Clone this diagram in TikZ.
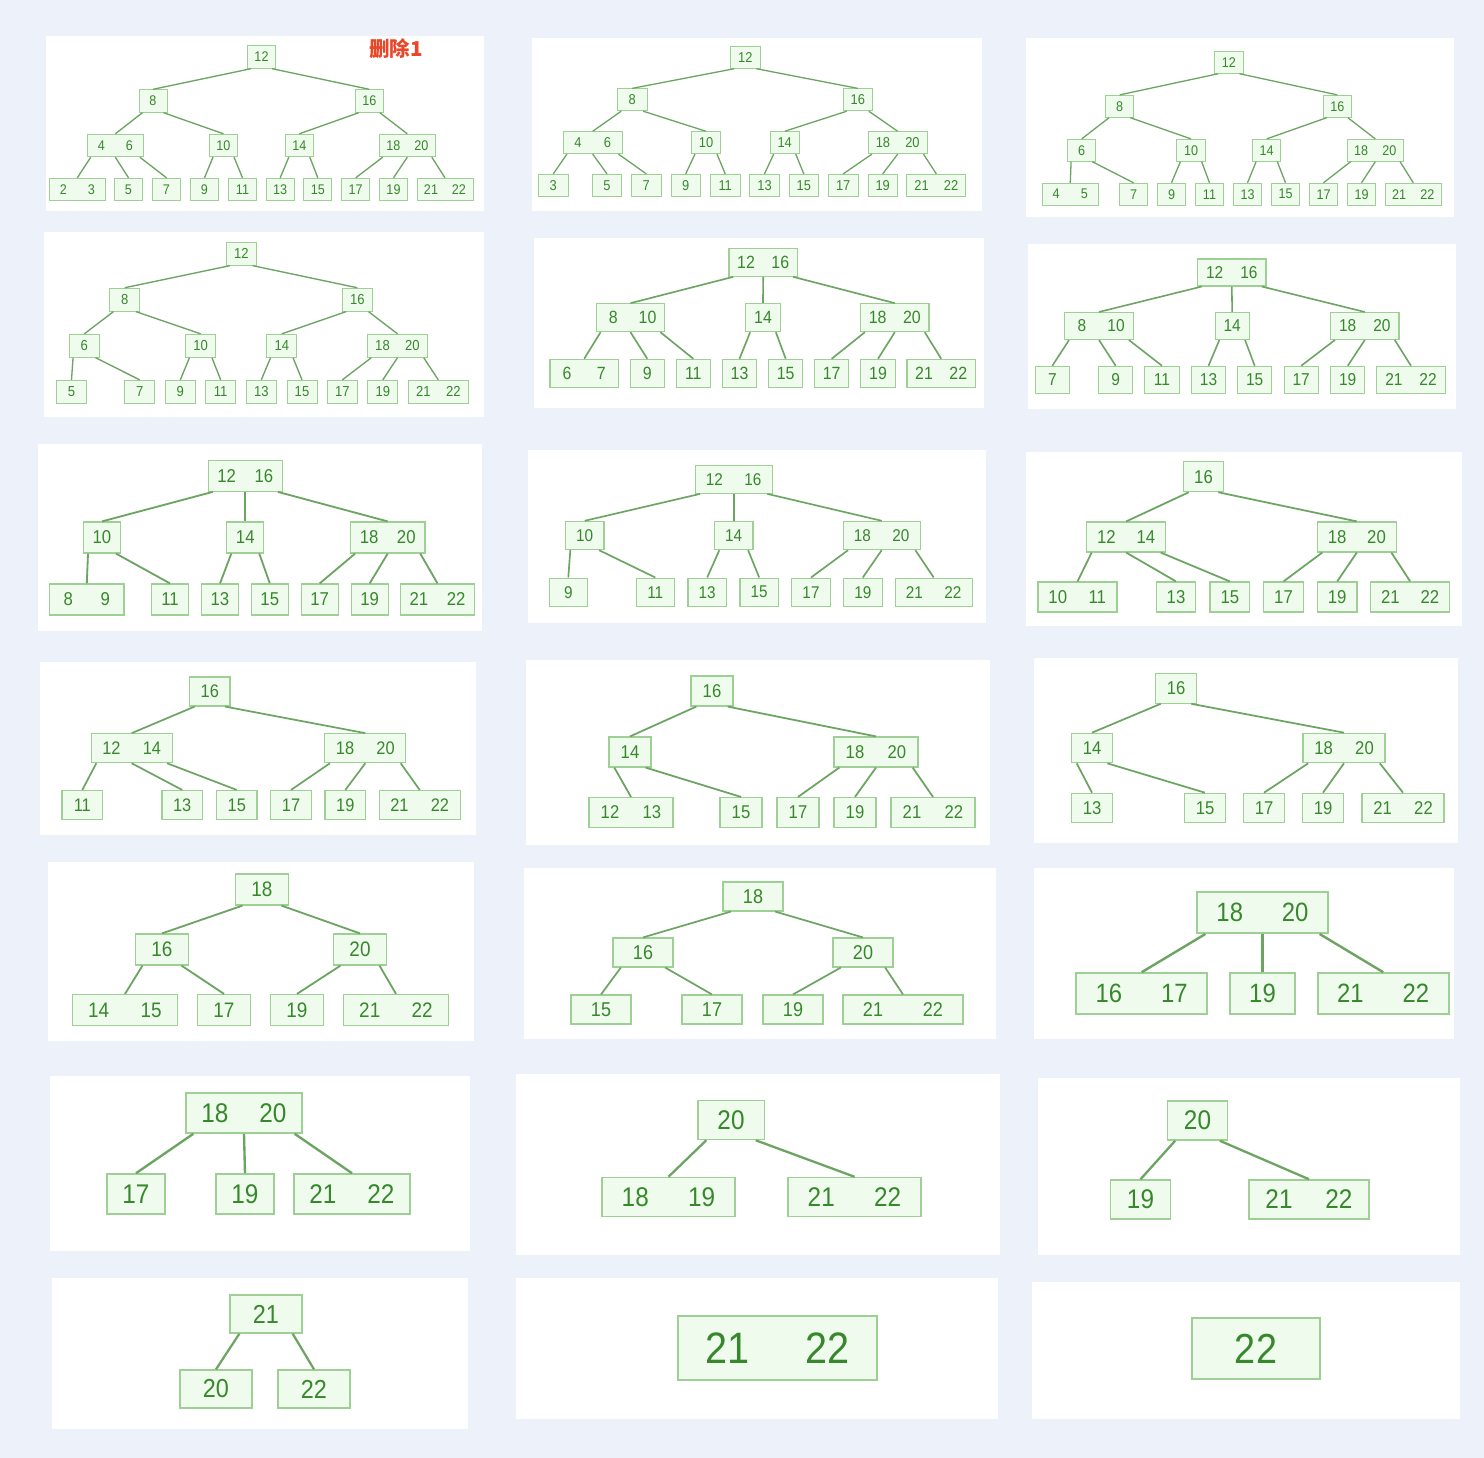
\documentclass[tikz,border=0pt]{standalone}
\usepackage{fontspec}
\setmainfont[FakeStretch=0.9]{Liberation Sans}
\newfontfamily\cjk{Noto Sans CJK SC}
\definecolor{pagebg}{RGB}{237,242,250}
\definecolor{keyfill}{RGB}{239,251,236}
\definecolor{keyline}{RGB}{158,208,150}
\definecolor{keytext}{RGB}{55,135,45}
\definecolor{linkline}{RGB}{108,164,98}
\definecolor{notered}{RGB}{234,70,40}
% cell width, cell height and font size of one panel
\newcommand{\panelsize}[3]{%
  \def\cw{#1pt}\def\ch{#2pt}\def\fs{#3}%
  \pgfmathsetmacro{\po}{0.14*#1}%
  \pgfmathsetmacro{\bw}{#2/26}%
  \pgfmathsetmacro{\ew}{#2/17}}
\newcommand{\kk}[2]{\makebox[\cw]{#1}\makebox[\cw]{#2}}
% child pointers: left, middle, right
\newcommand{\linkL}[2]{\draw[link] ([xshift=\po]#1.south west) -- (#2.north);}
\newcommand{\linkM}[2]{\draw[link] (#1.south) -- (#2.north);}
\newcommand{\linkR}[2]{\draw[link] ([xshift=-\po]#1.south east) -- (#2.north);}
\begin{document}
\begin{tikzpicture}[x=1pt, y=-1pt,
    key/.style={rectangle, draw=keyline, fill=keyfill, text=keytext, inner sep=0pt,
                minimum width=\cw, minimum height=\ch, line width=\bw pt,
                font=\fontsize{\fs}{\fs}\selectfont},
    link/.style={linkline, line width=\ew pt},
    panel/.style={fill=white}]
  \fill[pagebg] (0,0) rectangle (1484,1458);
  \useasboundingbox (0,0) rectangle (1484,1458);

  % row 1
  \begin{scope}
    \panelsize{28}{22.5}{14}
    \fill[panel] (46,36) rectangle (484,211);
    \node[key] (p1k12) at (261.5,57) {12};
    \node[key] (p1k8) at (153,101) {8};
    \node[key] (p1k16) at (369.3,101) {16};
    \node[key] (p1k46) at (115.3,145.5) {\kk{4}{6}};
    \node[key] (p1k10) at (223.5,145.5) {10};
    \node[key] (p1k14) at (299.3,145.5) {14};
    \node[key] (p1k1820) at (407.3,145.5) {\kk{18}{20}};
    \node[key] (p1k23) at (77.3,189.5) {\kk{2}{3}};
    \node[key] (p1k5) at (128.5,189.5) {5};
    \node[key] (p1k7) at (166.5,189.5) {7};
    \node[key] (p1k9) at (204.5,189.5) {9};
    \node[key] (p1k11) at (242.5,189.5) {11};
    \node[key] (p1k13) at (280.2,189.5) {13};
    \node[key] (p1k15) at (317.8,189.5) {15};
    \node[key] (p1k17) at (355.7,189.5) {17};
    \node[key] (p1k19) at (393.5,189.5) {19};
    \node[key] (p1k2122) at (445,189.5) {\kk{21}{22}};
    \linkL{p1k12}{p1k8} \linkR{p1k12}{p1k16}
    \linkL{p1k8}{p1k46} \linkR{p1k8}{p1k10}
    \linkL{p1k16}{p1k14} \linkR{p1k16}{p1k1820}
    \linkL{p1k46}{p1k23} \linkM{p1k46}{p1k5} \linkR{p1k46}{p1k7}
    \linkL{p1k10}{p1k9} \linkR{p1k10}{p1k11}
    \linkL{p1k14}{p1k13} \linkR{p1k14}{p1k15}
    \linkL{p1k1820}{p1k17} \linkM{p1k1820}{p1k19} \linkR{p1k1820}{p1k2122}
    \node[font={\cjk\bfseries\fontsize{20.5}{20.5}\selectfont}, text=notered] (p1note) at (396,49) {删除1};
  \end{scope}

  \begin{scope}
    \panelsize{29.5}{22}{14.3}
    \fill[panel] (532,38) rectangle (982,211);
    \node[key] (p2k12) at (745.3,57.3) {12};
    \node[key] (p2k8) at (632.2,99.8) {8};
    \node[key] (p2k16) at (857.8,99.8) {16};
    \node[key] (p2k46) at (592.7,142.7) {\kk{4}{6}};
    \node[key] (p2k10) at (706,142.7) {10};
    \node[key] (p2k14) at (784.7,142.7) {14};
    \node[key] (p2k1820) at (897.7,142.7) {\kk{18}{20}};
    \node[key] (p2k3) at (553.3,185.3) {3};
    \node[key] (p2k5) at (607,185.3) {5};
    \node[key] (p2k7) at (646.3,185.3) {7};
    \node[key] (p2k9) at (685.7,185.3) {9};
    \node[key] (p2k11) at (725.2,185.3) {11};
    \node[key] (p2k13) at (764.5,185.3) {13};
    \node[key] (p2k15) at (803.8,185.3) {15};
    \node[key] (p2k17) at (843.2,185.3) {17};
    \node[key] (p2k19) at (882.7,185.3) {19};
    \node[key] (p2k2122) at (936.3,185.3) {\kk{21}{22}};
    \linkL{p2k12}{p2k8} \linkR{p2k12}{p2k16}
    \linkL{p2k8}{p2k46} \linkR{p2k8}{p2k10}
    \linkL{p2k16}{p2k14} \linkR{p2k16}{p2k1820}
    \linkL{p2k46}{p2k3} \linkM{p2k46}{p2k5} \linkR{p2k46}{p2k7}
    \linkL{p2k10}{p2k9} \linkR{p2k10}{p2k11}
    \linkL{p2k14}{p2k13} \linkR{p2k14}{p2k15}
    \linkL{p2k1820}{p2k17} \linkM{p2k1820}{p2k19} \linkR{p2k1820}{p2k2122}
  \end{scope}

  \begin{scope}
    \panelsize{28.3}{22}{14}
    \fill[panel] (1026,38) rectangle (1454,217);
    \node[key] (p3k12) at (1228.8,62.3) {12};
    \node[key] (p3k8) at (1119.7,106.3) {8};
    \node[key] (p3k16) at (1337.3,106.3) {16};
    \node[key] (p3k6) at (1081.7,150.3) {6};
    \node[key] (p3k10) at (1191,150.3) {10};
    \node[key] (p3k14) at (1266.7,150.3) {14};
    \node[key] (p3k1820) at (1375.3,150.3) {\kk{18}{20}};
    \node[key] (p3k45) at (1070.3,194.2) {\kk{4}{5}};
    \node[key] (p3k7) at (1133.5,194.2) {7};
    \node[key] (p3k9) at (1171.5,194.2) {9};
    \node[key] (p3k11) at (1209.5,194.2) {11};
    \node[key] (p3k13) at (1247.5,194.2) {13};
    \node[key] (p3k15) at (1285.5,194.2) {15};
    \node[key] (p3k17) at (1323.5,194.2) {17};
    \node[key] (p3k19) at (1361.5,194.2) {19};
    \node[key] (p3k2122) at (1413.3,194.2) {\kk{21}{22}};
    \linkL{p3k12}{p3k8} \linkR{p3k12}{p3k16}
    \linkL{p3k8}{p3k6} \linkR{p3k8}{p3k10}
    \linkL{p3k16}{p3k14} \linkR{p3k16}{p3k1820}
    \linkL{p3k6}{p3k45} \linkR{p3k6}{p3k7}
    \linkL{p3k10}{p3k9} \linkR{p3k10}{p3k11}
    \linkL{p3k14}{p3k13} \linkR{p3k14}{p3k15}
    \linkL{p3k1820}{p3k17} \linkM{p3k1820}{p3k19} \linkR{p3k1820}{p3k2122}
  \end{scope}

  % row 2
  \begin{scope}
    \panelsize{30}{23}{14.5}
    \fill[panel] (44,232) rectangle (484,417);
    \node[key] (p4k12) at (241.3,253.7) {12};
    \node[key] (p4k8) at (124.7,299.7) {8};
    \node[key] (p4k16) at (357.3,299.7) {16};
    \node[key] (p4k6) at (84.3,345.8) {6};
    \node[key] (p4k10) at (200.7,345.8) {10};
    \node[key] (p4k14) at (281.8,345.8) {14};
    \node[key] (p4k1820) at (397.5,345.8) {\kk{18}{20}};
    \node[key] (p4k5) at (71.5,391.8) {5};
    \node[key] (p4k7) at (139.7,391.8) {7};
    \node[key] (p4k9) at (180.3,391.8) {9};
    \node[key] (p4k11) at (220.7,391.8) {11};
    \node[key] (p4k13) at (261.3,391.8) {13};
    \node[key] (p4k15) at (302,391.8) {15};
    \node[key] (p4k17) at (342.3,391.8) {17};
    \node[key] (p4k19) at (382.8,391.8) {19};
    \node[key] (p4k2122) at (438.3,391.8) {\kk{21}{22}};
    \linkL{p4k12}{p4k8} \linkR{p4k12}{p4k16}
    \linkL{p4k8}{p4k6} \linkR{p4k8}{p4k10}
    \linkL{p4k16}{p4k14} \linkR{p4k16}{p4k1820}
    \linkL{p4k6}{p4k5} \linkR{p4k6}{p4k7}
    \linkL{p4k10}{p4k9} \linkR{p4k10}{p4k11}
    \linkL{p4k14}{p4k13} \linkR{p4k14}{p4k15}
    \linkL{p4k1820}{p4k17} \linkM{p4k1820}{p4k19} \linkR{p4k1820}{p4k2122}
  \end{scope}

  \begin{scope}
    \panelsize{34.2}{28}{17.7}
    \fill[panel] (534,238) rectangle (984,408);
    \node[key] (p5k1216) at (763.2,262.3) {\kk{12}{16}};
    \node[key] (p5k810) at (630.5,317.7) {\kk{8}{10}};
    \node[key] (p5k14) at (763,317.7) {14};
    \node[key] (p5k1820) at (894.8,317.7) {\kk{18}{20}};
    \node[key] (p5k67) at (584.2,373.3) {\kk{6}{7}};
    \node[key] (p5k9) at (647.3,373.3) {9};
    \node[key] (p5k11) at (693.3,373.3) {11};
    \node[key] (p5k13) at (739.5,373.3) {13};
    \node[key] (p5k15) at (785.7,373.3) {15};
    \node[key] (p5k17) at (831.7,373.3) {17};
    \node[key] (p5k19) at (878,373.3) {19};
    \node[key] (p5k2122) at (941.2,373.3) {\kk{21}{22}};
    \linkL{p5k1216}{p5k810} \linkM{p5k1216}{p5k14} \linkR{p5k1216}{p5k1820}
    \linkL{p5k810}{p5k67} \linkM{p5k810}{p5k9} \linkR{p5k810}{p5k11}
    \linkL{p5k14}{p5k13} \linkR{p5k14}{p5k15}
    \linkL{p5k1820}{p5k17} \linkM{p5k1820}{p5k19} \linkR{p5k1820}{p5k2122}
  \end{scope}

  \begin{scope}
    \panelsize{34.2}{27}{17.2}
    \fill[panel] (1028,244) rectangle (1456,409);
    \node[key] (p6k1216) at (1231.8,272.5) {\kk{12}{16}};
    \node[key] (p6k810) at (1099,326) {\kk{8}{10}};
    \node[key] (p6k14) at (1232.2,326) {14};
    \node[key] (p6k1820) at (1364.8,326) {\kk{18}{20}};
    \node[key] (p6k7) at (1052.3,379.8) {7};
    \node[key] (p6k9) at (1115.7,379.8) {9};
    \node[key] (p6k11) at (1162,379.8) {11};
    \node[key] (p6k13) at (1208.5,379.8) {13};
    \node[key] (p6k15) at (1254.7,379.8) {15};
    \node[key] (p6k17) at (1301.2,379.8) {17};
    \node[key] (p6k19) at (1347.7,379.8) {19};
    \node[key] (p6k2122) at (1411,379.8) {\kk{21}{22}};
    \linkL{p6k1216}{p6k810} \linkM{p6k1216}{p6k14} \linkR{p6k1216}{p6k1820}
    \linkL{p6k810}{p6k7} \linkM{p6k810}{p6k9} \linkR{p6k810}{p6k11}
    \linkL{p6k14}{p6k13} \linkR{p6k14}{p6k15}
    \linkL{p6k1820}{p6k17} \linkM{p6k1820}{p6k19} \linkR{p6k1820}{p6k2122}
  \end{scope}

  % row 3
  \begin{scope}
    \panelsize{37.2}{31}{18.6}
    \fill[panel] (38,444) rectangle (482,631);
    \node[key] (p7k1216) at (245.3,475.8) {\kk{12}{16}};
    \node[key] (p7k10) at (102,537.5) {10};
    \node[key] (p7k14) at (245.3,537.5) {14};
    \node[key] (p7k1820) at (387.7,537.5) {\kk{18}{20}};
    \node[key] (p7k89) at (86.8,599.5) {\kk{8}{9}};
    \node[key] (p7k11) at (170,599.5) {11};
    \node[key] (p7k13) at (220,599.5) {13};
    \node[key] (p7k15) at (269.8,599.5) {15};
    \node[key] (p7k17) at (319.7,599.5) {17};
    \node[key] (p7k19) at (369.7,599.5) {19};
    \node[key] (p7k2122) at (437.5,599.5) {\kk{21}{22}};
    \linkL{p7k1216}{p7k10} \linkM{p7k1216}{p7k14} \linkR{p7k1216}{p7k1820}
    \linkL{p7k10}{p7k89} \linkR{p7k10}{p7k11}
    \linkL{p7k14}{p7k13} \linkR{p7k14}{p7k15}
    \linkL{p7k1820}{p7k17} \linkM{p7k1820}{p7k19} \linkR{p7k1820}{p7k2122}
  \end{scope}

  \begin{scope}
    \panelsize{38.5}{28.3}{17}
    \fill[panel] (528,450) rectangle (986,623);
    \node[key] (p8k1216) at (733.7,479.2) {\kk{12}{16}};
    \node[key] (p8k10) at (584.7,535.5) {10};
    \node[key] (p8k14) at (733.7,535.5) {14};
    \node[key] (p8k1820) at (881.7,535.5) {\kk{18}{20}};
    \node[key] (p8k9) at (568.3,592.2) {9};
    \node[key] (p8k11) at (655.3,592.2) {11};
    \node[key] (p8k13) at (707.2,592.2) {13};
    \node[key] (p8k15) at (759.2,592.2) {15};
    \node[key] (p8k17) at (811,592.2) {17};
    \node[key] (p8k19) at (862.8,592.2) {19};
    \node[key] (p8k2122) at (933.7,592.2) {\kk{21}{22}};
    \linkL{p8k1216}{p8k10} \linkM{p8k1216}{p8k14} \linkR{p8k1216}{p8k1820}
    \linkL{p8k10}{p8k9} \linkR{p8k10}{p8k11}
    \linkL{p8k14}{p8k13} \linkR{p8k14}{p8k15}
    \linkL{p8k1820}{p8k17} \linkM{p8k1820}{p8k19} \linkR{p8k1820}{p8k2122}
  \end{scope}

  \begin{scope}
    \panelsize{39.5}{30}{18.6}
    \fill[panel] (1026,452) rectangle (1462,626);
    \node[key] (p9k16) at (1203.5,476.7) {16};
    \node[key] (p9k1214) at (1126.2,537) {\kk{12}{14}};
    \node[key] (p9k1820) at (1356.8,537) {\kk{18}{20}};
    \node[key] (p9k1011) at (1077.5,597) {\kk{10}{11}};
    \node[key] (p9k13) at (1176,597) {13};
    \node[key] (p9k15) at (1229.8,597) {15};
    \node[key] (p9k17) at (1283.5,597) {17};
    \node[key] (p9k19) at (1337.2,597) {19};
    \node[key] (p9k2122) at (1410.2,597) {\kk{21}{22}};
    \linkL{p9k16}{p9k1214} \linkR{p9k16}{p9k1820}
    \linkL{p9k1214}{p9k1011} \linkM{p9k1214}{p9k13} \linkR{p9k1214}{p9k15}
    \linkL{p9k1820}{p9k17} \linkM{p9k1820}{p9k19} \linkR{p9k1820}{p9k2122}
  \end{scope}

  % row 4
  \begin{scope}
    \panelsize{40.5}{29}{18.2}
    \fill[panel] (40,662) rectangle (476,835);
    \node[key] (p10k16) at (209.8,691.5) {16};
    \node[key] (p10k1214) at (131.7,748.2) {\kk{12}{14}};
    \node[key] (p10k1820) at (365.3,748.2) {\kk{18}{20}};
    \node[key] (p10k11) at (82.3,805) {11};
    \node[key] (p10k13) at (182.2,805) {13};
    \node[key] (p10k15) at (236.8,805) {15};
    \node[key] (p10k17) at (291,805) {17};
    \node[key] (p10k19) at (345.3,805) {19};
    \node[key] (p10k2122) at (419.7,805) {\kk{21}{22}};
    \linkL{p10k16}{p10k1214} \linkR{p10k16}{p10k1820}
    \linkL{p10k1214}{p10k11} \linkM{p10k1214}{p10k13} \linkR{p10k1214}{p10k15}
    \linkL{p10k1820}{p10k17} \linkM{p10k1820}{p10k19} \linkR{p10k1820}{p10k2122}
  \end{scope}

  \begin{scope}
    \panelsize{42}{30}{18.5}
    \fill[panel] (526,660) rectangle (990,845);
    \node[key] (p11k16) at (712,691) {16};
    \node[key] (p11k14) at (630,752) {14};
    \node[key] (p11k1820) at (876,752) {\kk{18}{20}};
    \node[key] (p11k1213) at (631,812.5) {\kk{12}{13}};
    \node[key] (p11k15) at (741,812.5) {15};
    \node[key] (p11k17) at (798,812.5) {17};
    \node[key] (p11k19) at (855,812.5) {19};
    \node[key] (p11k2122) at (933,812.5) {\kk{21}{22}};
    \linkL{p11k16}{p11k14} \linkR{p11k16}{p11k1820}
    \linkL{p11k14}{p11k1213} \linkR{p11k14}{p11k15}
    \linkL{p11k1820}{p11k17} \linkM{p11k1820}{p11k19} \linkR{p11k1820}{p11k2122}
  \end{scope}

  \begin{scope}
    \panelsize{41}{29.5}{18.5}
    \fill[panel] (1034,658) rectangle (1458,843);
    \node[key] (p12k16) at (1176,688.5) {16};
    \node[key] (p12k14) at (1092,748) {14};
    \node[key] (p12k1820) at (1344,748) {\kk{18}{20}};
    \node[key] (p12k13) at (1092,808) {13};
    \node[key] (p12k15) at (1205,808) {15};
    \node[key] (p12k17) at (1264,808) {17};
    \node[key] (p12k19) at (1323,808) {19};
    \node[key] (p12k2122) at (1403,808) {\kk{21}{22}};
    \linkL{p12k16}{p12k14} \linkR{p12k16}{p12k1820}
    \linkL{p12k14}{p12k13} \linkR{p12k14}{p12k15}
    \linkL{p12k1820}{p12k17} \linkM{p12k1820}{p12k19} \linkR{p12k1820}{p12k2122}
  \end{scope}

  % row 5
  \begin{scope}
    \panelsize{52.5}{31}{21}
    \fill[panel] (48,862) rectangle (474,1041);
    \node[key] (p13k18) at (262,889.5) {18};
    \node[key] (p13k16) at (162,949.5) {16};
    \node[key] (p13k20) at (360,949.5) {20};
    \node[key] (p13k1415) at (125,1010) {\kk{14}{15}};
    \node[key] (p13k17) at (224,1010) {17};
    \node[key] (p13k19) at (297,1010) {19};
    \node[key] (p13k2122) at (396,1010) {\kk{21}{22}};
    \linkL{p13k18}{p13k16} \linkR{p13k18}{p13k20}
    \linkL{p13k16}{p13k1415} \linkR{p13k16}{p13k17}
    \linkL{p13k20}{p13k19} \linkR{p13k20}{p13k2122}
  \end{scope}

  \begin{scope}
    \panelsize{60}{29}{20}
    \fill[panel] (524,868) rectangle (996,1039);
    \node[key] (p14k18) at (753,896.5) {18};
    \node[key] (p14k16) at (643,952.5) {16};
    \node[key] (p14k20) at (863,952.5) {20};
    \node[key] (p14k15) at (601,1009.5) {15};
    \node[key] (p14k17) at (712,1009.5) {17};
    \node[key] (p14k19) at (793,1009.5) {19};
    \node[key] (p14k2122) at (903,1009.5) {\kk{21}{22}};
    \linkL{p14k18}{p14k16} \linkR{p14k18}{p14k20}
    \linkL{p14k16}{p14k15} \linkR{p14k16}{p14k17}
    \linkL{p14k20}{p14k19} \linkR{p14k20}{p14k2122}
  \end{scope}

  \begin{scope}
    \panelsize{65.5}{41}{26.5}
    \fill[panel] (1034,868) rectangle (1454,1039);
    \node[key] (p15k1820) at (1262.5,912.7) {\kk{18}{20}};
    \node[key] (p15k1617) at (1141.7,993.5) {\kk{16}{17}};
    \node[key] (p15k19) at (1262.5,993.5) {19};
    \node[key] (p15k2122) at (1383.2,993.5) {\kk{21}{22}};
    \linkL{p15k1820}{p15k1617} \linkM{p15k1820}{p15k19} \linkR{p15k1820}{p15k2122}
  \end{scope}

  % row 6
  \begin{scope}
    \panelsize{58}{40}{27}
    \fill[panel] (50,1076) rectangle (470,1251);
    \node[key] (p16k1820) at (244,1113) {\kk{18}{20}};
    \node[key] (p16k17) at (136,1194) {17};
    \node[key] (p16k19) at (245,1194) {19};
    \node[key] (p16k2122) at (352,1194) {\kk{21}{22}};
    \linkL{p16k1820}{p16k17} \linkM{p16k1820}{p16k19} \linkR{p16k1820}{p16k2122}
  \end{scope}

  \begin{scope}
    \panelsize{66.5}{39}{27}
    \fill[panel] (516,1074) rectangle (1000,1255);
    \node[key] (p17k20) at (731,1120) {20};
    \node[key] (p17k1819) at (668.5,1197) {\kk{18}{19}};
    \node[key] (p17k2122) at (854.5,1197) {\kk{21}{22}};
    \linkL{p17k20}{p17k1819} \linkR{p17k20}{p17k2122}
  \end{scope}

  \begin{scope}
    \panelsize{60}{39}{27}
    \fill[panel] (1038,1078) rectangle (1460,1255);
    \node[key] (p18k20) at (1197.5,1120.5) {20};
    \node[key] (p18k19) at (1140.5,1199.5) {19};
    \node[key] (p18k2122) at (1309,1199.5) {\kk{21}{22}};
    \linkL{p18k20}{p18k19} \linkR{p18k20}{p18k2122}
  \end{scope}

  % row 7
  \begin{scope}
    \panelsize{72}{38}{26}
    \fill[panel] (52,1278) rectangle (468,1429);
    \node[key] (p19k21) at (266,1314) {21};
    \node[key] (p19k20) at (216,1389) {20};
    \node[key] (p19k22) at (314,1389) {22};
    \linkL{p19k21}{p19k20} \linkR{p19k21}{p19k22}
  \end{scope}

  \begin{scope}
    \panelsize{99.5}{64}{44}
    \fill[panel] (516,1278) rectangle (998,1419);
    \node[key] (p20k2122) at (777.5,1348) {\kk{21}{22}};
  \end{scope}

  \begin{scope}
    \panelsize{128}{61}{42}
    \fill[panel] (1032,1282) rectangle (1460,1419);
    \node[key] (p21k22) at (1256,1348.5) {22};
  \end{scope}
\end{tikzpicture}
\end{document}
